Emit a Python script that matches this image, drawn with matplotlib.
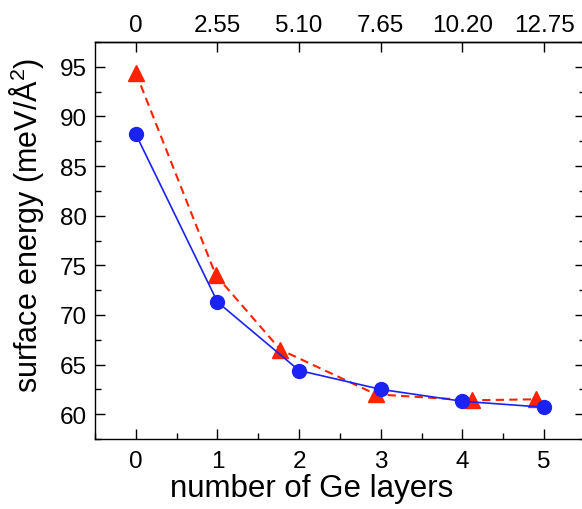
import matplotlib
matplotlib.use("Agg")
import matplotlib.pyplot as plt
from matplotlib.ticker import MultipleLocator

plt.rcParams["font.family"] = ["Liberation Sans", "DejaVu Sans"]
plt.rcParams["mathtext.fontset"] = "custom"
plt.rcParams["mathtext.rm"] = "Liberation Sans"

# data
layers_blue = [0, 1, 2, 3, 4, 5]
energy_blue = [88.2, 71.3, 64.4, 62.5, 61.3, 60.7]
layers_red = [0, 0.98, 1.77, 2.94, 4.12, 4.90]
energy_red = [94.4, 74.0, 66.5, 62.0, 61.4, 61.5]
top_ticks = [0, 1, 2, 3, 4, 5]
top_labels = ["0", "2.55", "5.10", "7.65", "10.20", "12.75"]

W, H = 582, 510
fig = plt.figure(figsize=(W / 100, H / 100), dpi=100, facecolor="white")
# axes box in pixel coords: left 95, right ~585, top 43, bottom 440
ax = fig.add_axes([95 / W, (H - 440) / H, 490 / W, (440 - 43) / H])

ax.plot(layers_red, energy_red, color="#ff2200", lw=1.5, ls=(0, (4, 2.5)),
        marker="^", ms=11, mec="#ff2200", zorder=2)
ax.plot(layers_blue, energy_blue, color="#1a22f5", lw=1.2, ls="-",
        marker="o", ms=10, mec="#1a22f5", zorder=3)

ax.set_xlim(-0.5, 5.5)
ax.set_ylim(57.5, 97.5)
ax.xaxis.set_major_locator(MultipleLocator(1))
ax.xaxis.set_minor_locator(MultipleLocator(0.5))
ax.yaxis.set_major_locator(MultipleLocator(5))
ax.yaxis.set_minor_locator(MultipleLocator(2.5))
ax.tick_params(which="both", direction="in", right=True, labelsize=17.5, width=1.0)
ax.tick_params(which="major", length=7, pad=8)
ax.tick_params(which="minor", length=4)
ax.tick_params(axis="y", which="major", pad=6)

top = ax.secondary_xaxis("top")
top.set_xticks(top_ticks)
top.set_xticklabels(top_labels)
top.tick_params(direction="in", length=7, width=1.0, labelsize=17.5, pad=4)

for sp in list(ax.spines.values()) + [top.spines["top"]]:
    sp.set_linewidth(1.0)

ax.set_xlabel("number of Ge layers", fontsize=22.5)
ax.set_ylabel("surface energy (meV/Å$^{2}$)", fontsize=22)
# labels sit a bit off-centre in the original
ax.xaxis.set_label_coords(0.443, -0.085)
ax.yaxis.set_label_coords(-0.1, 0.54)

fig.savefig("out.png", dpi=100, facecolor="white")
